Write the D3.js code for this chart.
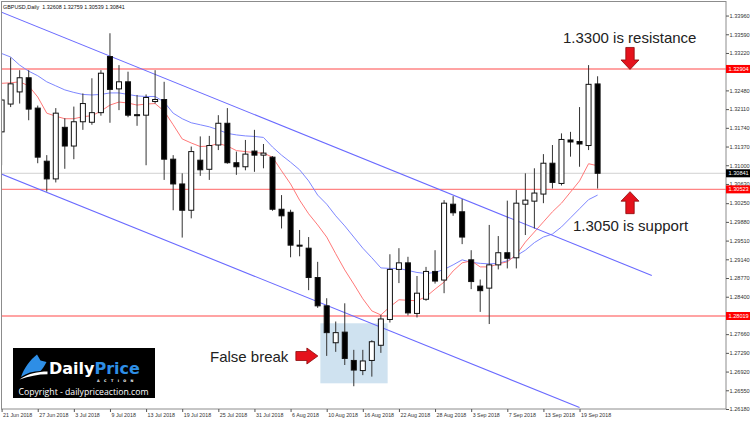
<!DOCTYPE html>
<html><head><meta charset="utf-8">
<script src="https://cdn.jsdelivr.net/npm/d3@7"></script>
<style>html,body{margin:0;padding:0;background:#fff;} svg{display:block;}</style>
</head><body>
<svg id="c" width="750" height="422"></svg>
<script>
// ---------- DATA ----------
const dates = ["21 Jun","22 Jun","25 Jun","26 Jun","27 Jun","28 Jun","29 Jun","2 Jul","3 Jul","4 Jul","5 Jul","6 Jul","9 Jul","10 Jul","11 Jul","12 Jul","13 Jul","16 Jul","17 Jul","18 Jul","19 Jul","20 Jul","23 Jul","24 Jul","25 Jul","26 Jul","27 Jul","30 Jul","31 Jul","1 Aug","2 Aug","3 Aug","6 Aug","7 Aug","8 Aug","9 Aug","10 Aug","13 Aug","14 Aug","15 Aug","16 Aug","17 Aug","20 Aug","21 Aug","22 Aug","23 Aug","24 Aug","27 Aug","28 Aug","29 Aug","30 Aug","31 Aug","3 Sep","4 Sep","5 Sep","6 Sep","7 Sep","10 Sep","11 Sep","12 Sep","13 Sep","14 Sep","17 Sep","18 Sep","19 Sep","20 Sep","21 Sep"];
const open  = [1.3166,1.3221,1.3245,1.3273,1.3213,1.3108,1.3073,1.3175,1.3138,1.3186,1.3185,1.3204,1.3315,1.3251,1.3265,1.3200,1.3199,1.3226,1.3230,1.3112,1.3063,1.3011,1.3110,1.3092,1.3140,1.3183,1.3105,1.3097,1.3128,1.3120,1.3116,1.3013,1.3007,1.2942,1.2936,1.2878,1.2822,1.2749,1.2770,1.2714,1.2694,1.2714,1.2744,1.2795,1.2894,1.2907,1.2807,1.2835,1.2890,1.2873,1.3023,1.3008,1.2913,1.2861,1.2857,1.2903,1.2927,1.2917,1.3023,1.3029,1.3043,1.3104,1.3064,1.3150,1.3147,1.3139,1.32608];
const high  = [1.3232,1.3313,1.3288,1.3288,1.3218,1.3120,1.3213,1.3193,1.3216,1.3242,1.3272,1.3288,1.3361,1.3298,1.3285,1.3239,1.3240,1.3288,1.3265,1.3120,1.3084,1.3137,1.3157,1.3158,1.3199,1.3213,1.3127,1.3150,1.3170,1.3142,1.3118,1.3041,1.3012,1.2972,1.2958,1.2909,1.2837,1.2791,1.2827,1.2735,1.2735,1.2754,1.2804,1.2924,1.2936,1.2919,1.2881,1.2899,1.2932,1.3031,1.3039,1.3033,1.2932,1.2874,1.2982,1.2960,1.3030,1.3051,1.3084,1.3094,1.3122,1.3140,1.3163,1.3166,1.3215,1.3298,1.32759];
const low   = [1.3100,1.3215,1.3222,1.3189,1.3104,1.3048,1.3066,1.3093,1.3112,1.3170,1.3180,1.3198,1.3184,1.3209,1.3195,1.3178,1.3100,1.3222,1.3071,1.3011,1.2957,1.2995,1.3079,1.3071,1.3130,1.3103,1.3081,1.3090,1.3087,1.3094,1.3010,1.2975,1.2918,1.2920,1.2853,1.2818,1.2723,1.2731,1.2705,1.2663,1.2685,1.2682,1.2729,1.2789,1.2867,1.2803,1.2799,1.2832,1.2866,1.2847,1.3000,1.2944,1.2855,1.2810,1.2786,1.2894,1.2896,1.2896,1.2962,1.2975,1.3025,1.3054,1.3060,1.3117,1.3097,1.3130,1.30539];
const close = [1.3229,1.3261,1.3273,1.3211,1.3116,1.3073,1.3203,1.3138,1.3186,1.3222,1.3204,1.3282,1.3250,1.3265,1.3199,1.3198,1.3234,1.3230,1.3112,1.3063,1.3011,1.3127,1.3091,1.3139,1.3183,1.3105,1.3097,1.3122,1.3120,1.3124,1.3013,1.3000,1.2942,1.2940,1.2878,1.2822,1.2769,1.2769,1.2718,1.2695,1.2713,1.2751,1.2796,1.2894,1.2907,1.2808,1.2847,1.2890,1.2871,1.3025,1.3006,1.2958,1.2870,1.2852,1.2903,1.2927,1.2916,1.3025,1.3031,1.3045,1.3104,1.3066,1.3151,1.3146,1.3142,1.3260,1.30841];
const maFast = [1.3262,1.3263,1.3265,1.3257,1.3235,1.3203,1.3197,1.3192,1.3192,1.3196,1.3198,1.3207,1.3219,1.3225,1.3223,1.3219,1.3221,1.3222,1.3207,1.3180,1.3152,1.3144,1.3137,1.3138,1.3143,1.3138,1.3129,1.3127,1.3125,1.3124,1.3116,1.3089,1.3063,1.3031,1.3004,1.2982,1.2958,1.2925,1.2893,1.2865,1.2836,1.2812,1.2804,1.2820,1.2834,1.2833,1.2832,1.2840,1.2855,1.2869,1.2891,1.2907,1.2911,1.2899,1.2899,1.2905,1.2909,1.2923,1.2948,1.2968,1.2988,1.3008,1.3025,1.3047,1.3069,1.3103,1.3099];
const maSlow = [1.3321,1.3314,1.3298,1.3286,1.3277,1.3265,1.3257,1.3249,1.3244,1.3240,1.3239,1.3240,1.3243,1.3243,1.3240,1.3237,1.3236,1.3236,1.3225,1.3203,1.3192,1.3184,1.3180,1.3176,1.3170,1.3163,1.3160,1.3158,1.3157,1.3155,1.3136,1.3120,1.3106,1.3091,1.3069,1.3041,1.3023,1.3000,1.2980,1.2958,1.2936,1.2917,1.2897,1.2896,1.2896,1.2892,1.2888,1.2886,1.2888,1.2894,1.2903,1.2913,1.2908,1.2906,1.2905,1.2906,1.2911,1.2921,1.2932,1.2947,1.2958,1.2964,1.2978,1.2996,1.3014,1.3032,1.3041];
const priceTicks = [1.33960,1.33590,1.33220,1.32850,1.32480,1.32110,1.31740,1.31370,1.31000,1.30630,1.30250,1.29880,1.29510,1.29140,1.28770,1.28400,1.28030,1.27660,1.27290,1.26920,1.26550,1.26180];
const hiddenTickLabels = [1.32850, 1.28030];
const dateTickIndex = [0,4,8,12,16,20,24,28,32,36,40,44,48,52,56,60,64];
const dateTickLabels = ["21 Jun 2018","27 Jun 2018","3 Jul 2018","9 Jul 2018","13 Jul 2018","19 Jul 2018","25 Jul 2018","31 Jul 2018","6 Aug 2018","10 Aug 2018","16 Aug 2018","22 Aug 2018","28 Aug 2018","3 Sep 2018","7 Sep 2018","13 Sep 2018","19 Sep 2018"];
const levelPrices = [1.32904, 1.30523, 1.28019];
const lastPrice = 1.30841;
const channelUpper = [[-0.2, 1.3404], [72, 1.2882]];
const channelLower = [[-0.2, 1.3084], [64, 1.2621]];
const falseBreakZone = {b0: 35.3, b1: 42.75, pTop: 1.27875, pBot: 1.26688};
const title = "GBPUSD,Daily  1.32608 1.32759 1.30539 1.30841";
const notes = {resistance: "1.3300 is resistance", support: "1.3050 is support", falseBreak: "False break"};

// ---------- CHART ----------
const svg = d3.select("#c");
const L = 1.5, R = 726, T = 1.5, B = 409;
const x = d3.scaleLinear().domain([0, 66]).range([1.6, 597.6]);
const y = d3.scaleLinear().domain([1.2618, 1.34238]).range([B, T]);

svg.append("rect").attr("width", 750).attr("height", 422).attr("fill", "#fff");
svg.append("defs").append("clipPath").attr("id", "plot")
  .append("rect").attr("x", L).attr("y", T).attr("width", R - L).attr("height", B - T);
const g = svg.append("g").attr("clip-path", "url(#plot)");

// false-break zone
g.append("rect")
  .attr("x", x(falseBreakZone.b0)).attr("y", y(falseBreakZone.pTop))
  .attr("width", x(falseBreakZone.b1) - x(falseBreakZone.b0))
  .attr("height", y(falseBreakZone.pBot) - y(falseBreakZone.pTop))
  .attr("fill", "#cfe2f0");

// last price line
g.append("line").attr("x1", L).attr("x2", R).attr("y1", y(lastPrice)).attr("y2", y(lastPrice))
  .attr("stroke", "#d2d2d2").attr("stroke-width", 1);
// levels
g.selectAll("line.lvl").data(levelPrices).join("line").attr("class", "lvl")
  .attr("x1", L).attr("x2", R).attr("y1", d => y(d)).attr("y2", d => y(d))
  .attr("stroke", "#ff8585").attr("stroke-width", 1.4);

// moving averages
const idx = d3.range(dates.length);
const maLine = arr => d3.line().x(i => x(i)).y(i => y(arr[i]));
g.append("path").attr("d", maLine(maSlow)(idx)).attr("fill", "none").attr("stroke", "#7d86ff").attr("stroke-width", 1);
g.append("path").attr("d", maLine(maFast)(idx)).attr("fill", "none").attr("stroke", "#ff7878").attr("stroke-width", 1);

// channel lines
[channelUpper, channelLower].forEach(c => {
  g.append("line").attr("x1", x(c[0][0])).attr("y1", y(c[0][1])).attr("x2", x(c[1][0])).attr("y2", y(c[1][1]))
    .attr("stroke", "#6a6aff").attr("stroke-width", 1.1);
});

// candles
const cg = g.append("g");
idx.forEach(i => {
  const cx = x(i);
  const up = close[i] >= open[i];
  cg.append("line").attr("x1", cx).attr("x2", cx).attr("y1", y(high[i])).attr("y2", y(low[i]))
    .attr("stroke", "#333").attr("stroke-width", 1);
  const top = y(Math.max(open[i], close[i])), bot = y(Math.min(open[i], close[i]));
  cg.append("rect").attr("x", cx - 2.5).attr("y", top).attr("width", 5).attr("height", Math.max(bot - top, 0.6))
    .attr("fill", up ? "#fff" : "#000").attr("stroke", "#111").attr("stroke-width", 1);
});

// frame
svg.append("rect").attr("x", L).attr("y", T).attr("width", R - L).attr("height", B - T)
  .attr("fill", "none").attr("stroke", "#8c8c8c").attr("stroke-width", 1);

// y axis
const ya = svg.append("g").attr("transform", `translate(${R},0)`)
  .call(d3.axisRight(y).tickValues(priceTicks)
    .tickFormat(d => hiddenTickLabels.includes(d) ? "" : d3.format(".5f")(d)).tickSize(3).tickPadding(0.5));
ya.select(".domain").remove();
ya.selectAll("line").attr("stroke", "#555");
ya.selectAll("text").attr("font-family", "Liberation Sans, Arial, sans-serif").attr("font-size", 5.6).attr("fill", "#333");

// x axis
const xa = svg.append("g").attr("transform", `translate(0,${B})`)
  .call(d3.axisBottom(x).tickValues(dateTickIndex).tickFormat((d, k) => dateTickLabels[k]).tickSize(3));
xa.select(".domain").remove();
xa.selectAll("line").attr("stroke", "#555");
xa.selectAll("text").attr("text-anchor", "start").attr("x", 1).attr("y", 4).attr("dy", "0.71em")
  .attr("font-family", "Liberation Sans, Arial, sans-serif").attr("font-size", 5.3).attr("fill", "#333");

// price tags on axis
const tags = levelPrices.map(p => ({p, c: "#ff0000"})).concat([{p: lastPrice, c: "#000"}]);
tags.forEach(t => {
  svg.append("rect").attr("x", R).attr("y", y(t.p) - 4).attr("width", 24).attr("height", 8).attr("fill", t.c);
  svg.append("text").attr("x", R + 2.5).attr("y", y(t.p) + 2).text(d3.format(".5f")(t.p))
    .attr("font-family", "Liberation Sans, Arial, sans-serif").attr("font-size", 5.6).attr("fill", "#fff");
});

// title
svg.append("text").attr("x", 3).attr("y", 8.5).text(title).attr("xml:space", "preserve")
  .attr("font-family", "Liberation Sans, Arial, sans-serif").attr("font-size", 5.4).attr("fill", "#111");

// annotations
const annFont = "Liberation Sans, Arial, sans-serif";
svg.append("text").attr("x", 563).attr("y", 43).text(notes.resistance)
  .attr("font-family", annFont).attr("font-size", 15).attr("fill", "#222");
svg.append("text").attr("x", 573).attr("y", 231).text(notes.support)
  .attr("font-family", annFont).attr("font-size", 15).attr("fill", "#222");
svg.append("text").attr("x", 210).attr("y", 362).text(notes.falseBreak)
  .attr("font-family", annFont).attr("font-size", 15).attr("fill", "#222");

function arrow(tx, ty, dir) {
  const len = 22, hl = 9.5, hw = 9, sw = 4.2;
  let pts;
  if (dir === "down") pts = [[tx, ty], [tx - hw, ty - hl], [tx - sw, ty - hl], [tx - sw, ty - len], [tx + sw, ty - len], [tx + sw, ty - hl], [tx + hw, ty - hl]];
  if (dir === "up") pts = [[tx, ty], [tx - hw, ty + hl], [tx - sw, ty + hl], [tx - sw, ty + len], [tx + sw, ty + len], [tx + sw, ty + hl], [tx + hw, ty + hl]];
  if (dir === "right") pts = [[tx, ty], [tx - 11, ty - 8], [tx - 11, ty - 4.5], [tx - len, ty - 4.5], [tx - len, ty + 4.5], [tx - 11, ty + 4.5], [tx - 11, ty + 8]];
  svg.append("path").attr("d", "M" + pts.map(p => p.join(",")).join("L") + "Z")
    .attr("fill", "#e5121c").attr("stroke", "#8b0a0a").attr("stroke-width", 0.8);
}
arrow(630, y(levelPrices[0]) + 0.5, "down");
arrow(630, y(levelPrices[1]) + 2.3, "up");
arrow(x(falseBreakZone.b0) - 2.5, 356, "right");

// logo
const lg = svg.append("g");
lg.append("rect").attr("x", 13).attr("y", 348).attr("width", 142).attr("height", 50).attr("fill", "#000");
lg.append("path").attr("d", "M21,377 C24,368 30,360 37,354.5 L40.5,360.5 L46.5,362 C44.5,366 42.5,369 40.5,371 C33,371 26.5,373 21,377 Z").attr("fill", "#2e8ee6");
lg.append("path").attr("d", "M19.5,379.5 C28,373.5 38,371.5 47.5,371.5 L47.5,374.2 C38,374.2 29,376.2 19.5,379.5 Z").attr("fill", "#fff");
const lt = lg.append("text").attr("x", 49).attr("y", 374).attr("font-family", "DejaVu Sans, sans-serif").attr("font-weight", "bold").attr("font-size", 16);
lt.append("tspan").text("Daily").attr("fill", "#fff");
lt.append("tspan").text("Price").attr("fill", "#2e8ee6");
lg.append("text").attr("x", 97).attr("y", 381.5).text("ACTION").attr("font-family", "DejaVu Sans, sans-serif")
  .attr("font-size", 3.4).attr("letter-spacing", 4.4).attr("fill", "#fff").attr("font-weight", "bold");
lg.append("text").attr("x", 18.5).attr("y", 394.5).text("Copyright - dailypriceaction.com")
  .attr("font-family", "Open Sans, sans-serif").attr("font-size", 9.2).attr("fill", "#fff")
  .attr("textLength", 130).attr("lengthAdjust", "spacingAndGlyphs");
</script>
</body></html>
